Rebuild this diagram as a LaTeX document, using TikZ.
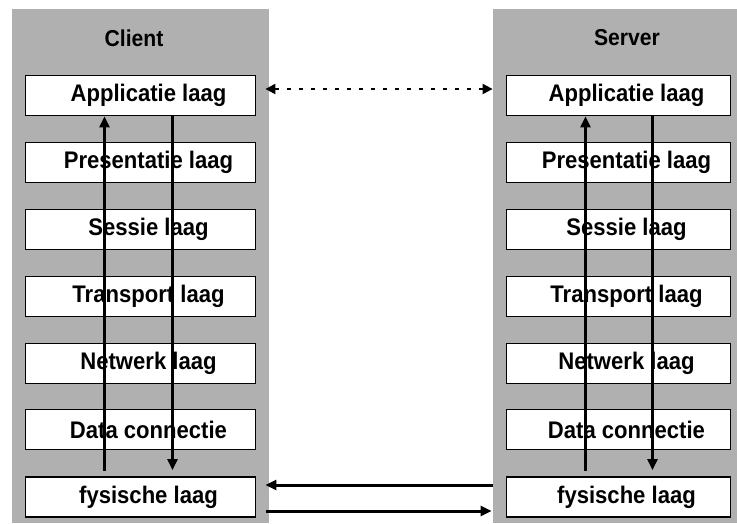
\documentclass[tikz,border=0pt]{standalone}
\usepackage{fontspec}
\setmainfont[FakeStretch=0.92]{Liberation Sans}
\usetikzlibrary{arrows.meta,calc}
\definecolor{panelgray}{HTML}{B0B0B0}
\begin{document}
\begin{tikzpicture}[x=1pt,y=-1pt,
  panel/.style={fill=panelgray, draw=none, inner sep=0pt, outer sep=0pt},
  layer/.style={draw=black, fill=white, line width=1.8pt, inner sep=0pt,
    minimum height=40pt, font=\fontsize{24}{26}\selectfont\bfseries,
    execute at begin node=\hspace*{16pt}},
  lbox/.style={layer, minimum width=230pt},
  rbox/.style={layer, minimum width=224pt},
  title/.style={font=\fontsize{23}{25}\selectfont\bfseries, inner sep=0pt},
  flow/.style={line width=3pt, -{Triangle[length=11pt,width=10pt]}},
  peer/.style={line width=2.2pt, dash pattern=on 4pt off 8pt,
    {Triangle[length=10pt,width=10pt]}-{Triangle[length=10pt,width=10pt]}}
]
\useasboundingbox (0,0) rectangle (737,523);
\fill[white] (0,0) rectangle (737,523);
\node[panel, minimum width=257pt, minimum height=514pt] (pL) at (140.5,266) {};
\node[panel, minimum width=244pt, minimum height=514pt] (pR) at (615,266) {};
\node[title] (tL) at (134,38) {Client};
\node[title] (tR) at (627,38) {Server};
% client stack
\node[lbox] (c1) at (140.5,95.5) {Applicatie laag};
\node[lbox] (c2) at (140.5,162.5) {Presentatie laag};
\node[lbox] (c3) at (140.5,229.5) {Sessie laag};
\node[lbox] (c4) at (140.5,296.5) {Transport laag};
\node[lbox] (c5) at (140.5,363.5) {Netwerk laag};
\node[lbox] (c6) at (140.5,429.5) {Data connectie};
\node[lbox] (c7) at (140.5,497) {fysische laag};
% server stack
\node[rbox] (r1) at (618.5,95.5) {Applicatie laag};
\node[rbox] (r2) at (618.5,162.5) {Presentatie laag};
\node[rbox] (r3) at (618.5,229.5) {Sessie laag};
\node[rbox] (r4) at (618.5,296.5) {Transport laag};
\node[rbox] (r5) at (618.5,363.5) {Netwerk laag};
\node[rbox] (r6) at (618.5,429.5) {Data connectie};
\node[rbox] (r7) at (618.5,497) {fysische laag};
% vertical flows
\draw[flow] ([xshift=-36pt,yshift=5pt]c7.north) -- ([xshift=-36pt]c1.south);
\draw[flow] ([xshift=32pt]c1.south) -- ([xshift=32pt,yshift=6pt]c7.north);
\draw[flow] ([xshift=-33pt,yshift=5pt]r7.north) -- ([xshift=-33pt]r1.south);
\draw[flow] ([xshift=34pt]r1.south) -- ([xshift=34pt,yshift=6pt]r7.north);
% peer-to-peer
\draw[peer] ([xshift=9pt,yshift=6.5pt]c1.east) -- ([xshift=-13pt,yshift=6.5pt]r1.west);
% physical link
\draw[flow] ([xshift=-13pt,yshift=12pt]r7.west) -- ([xshift=9pt,yshift=12pt]c7.east);
\draw[flow] ([xshift=10pt,yshift=-14pt]c7.east) -- ([xshift=-14pt,yshift=-14pt]r7.west);
\end{tikzpicture}
\end{document}
